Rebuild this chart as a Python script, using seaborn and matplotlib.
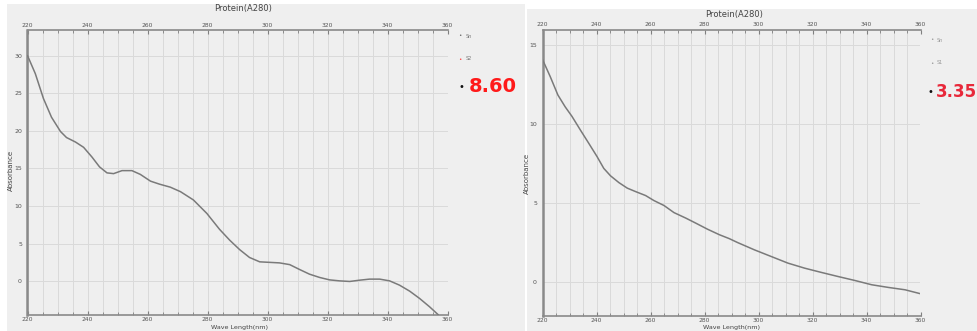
import matplotlib
matplotlib.use("Agg")
import matplotlib.pyplot as plt
from matplotlib.patches import Rectangle
from matplotlib.ticker import MultipleLocator
import seaborn as sns
import pandas as pd

# ---- data ----
left_wl = [220, 222.6, 225.3, 228, 231, 233, 236, 238.7, 241.5, 244, 246.5, 248.7,
           251.5, 254.8, 257.6, 261, 264, 267.6, 271, 275.3, 279.8, 284, 287.4,
           290.7, 294, 297.4, 300.7, 304, 307.4, 310.7, 314, 317.4, 320.7, 324,
           327.4, 330.7, 334, 337.4, 340.7, 344, 347.4, 350.7, 354, 357]
left_abs = [30.0, 27.6, 24.3, 21.8, 19.9, 19.1, 18.5, 17.8, 16.5, 15.2, 14.4, 14.3,
            14.7, 14.7, 14.2, 13.3, 12.9, 12.5, 11.9, 10.8, 9.0, 6.9, 5.45,
            4.2, 3.15, 2.57, 2.5, 2.43, 2.2, 1.55, 0.93, 0.49, 0.17, 0.04,
            -0.04, 0.13, 0.27, 0.27, 0.04, -0.53, -1.33, -2.3, -3.4, -4.5]

right_wl = [220, 222.9, 225.7, 228.4, 230.9, 234, 237.1, 240.2, 242.7, 245.2, 248.3,
            251.4, 254.5, 258.2, 261.3, 265, 268.7, 273.1, 276.8, 281.1, 285.5,
            289.2, 292.3, 298.5, 304.7, 310.9, 317.1, 323.3, 329.5, 335.7, 341.9,
            348.1, 354.3, 360]
right_abs = [14.1, 13.0, 11.85, 11.1, 10.5, 9.64, 8.8, 7.95, 7.2, 6.73, 6.3,
             5.95, 5.73, 5.48, 5.16, 4.85, 4.4, 4.05, 3.73, 3.35, 3.0,
             2.75, 2.5, 2.04, 1.62, 1.2, 0.88, 0.61, 0.35, 0.1, -0.17,
             -0.34, -0.49, -0.74]

x_ticks = [220, 240, 260, 280, 300, 320, 340, 360]
left_yticks = [0, 5, 10, 15, 20, 25, 30]
right_yticks = [0, 5, 10, 15]
title = "Protein(A280)"
xlabel = "Wave Length(nm)"
ylabel = "Absorbance"
left_value = "8.60"
right_value = "3.35"
legend_left = ["Sn", "S2"]
legend_right = ["Sn", "S1"]

sns.set_style("white")
plt.rcParams['font.family'] = ['DejaVu Sans']

W, H = 978, 331
fig = plt.figure(figsize=(W / 100, H / 100), dpi=100)
fig.patch.set_facecolor("white")

BG = "#efefef"
def px_rect(x0, y0, x1, y1):
    return [x0 / W, 1 - y1 / H, (x1 - x0) / W, (y1 - y0) / H]

# panel backgrounds
for (x0, y0, x1, y1) in [(7, 4, 525, 331), (527, 9, 978, 331)]:
    fig.patches.append(Rectangle((x0 / W, 1 - y1 / H), (x1 - x0) / W, (y1 - y0) / H,
                                 transform=fig.transFigure, facecolor=BG,
                                 edgecolor="none", zorder=-5))

def make_panel(rect, wl, ab, ylim, yticks):
    ax = fig.add_axes(px_rect(*rect))
    ax.set_zorder(5)
    ax.set_facecolor(BG)
    df = pd.DataFrame({"wl": wl, "abs": ab})
    sns.lineplot(data=df, x="wl", y="abs", ax=ax, color="#7a7a7a", linewidth=1.1,
                 estimator=None, sort=True, zorder=3)
    ax.set_xlim(220, 360)
    ax.set_ylim(*ylim)
    ax.set_xticks(x_ticks)
    ax.xaxis.set_minor_locator(MultipleLocator(5))
    ax.set_yticks(yticks)
    ax.yaxis.set_minor_locator(MultipleLocator(1))
    ax.set_axisbelow(True)
    ax.grid(True, which="both", axis="x", color="#dadada", linewidth=0.7)
    ax.grid(True, which="major", axis="y", color="#dadada", linewidth=0.7)
    ax.set_xlabel("")
    ax.set_ylabel("")
    ax.tick_params(axis="x", which="both", top=True, labeltop=True, bottom=True,
                   labelbottom=True, direction="in", colors="#808080",
                   labelcolor="#555555", labelsize=4.3, pad=1.5)
    ax.tick_params(axis="x", which="major", length=3, width=0.8)
    ax.tick_params(axis="x", which="minor", length=2, width=0.6)
    ax.tick_params(axis="y", which="both", direction="inout", colors="#808080",
                   labelcolor="#555555", labelsize=4.5, pad=2)
    ax.tick_params(axis="y", which="major", length=4, width=0.8)
    ax.tick_params(axis="y", which="minor", length=2.5, width=0.8)
    for s in ["left", "top", "bottom"]:
        ax.spines[s].set_color("#8a8a8a")
        ax.spines[s].set_linewidth(1.2)
    ax.spines["left"].set_linewidth(1.8)
    ax.spines["right"].set_visible(False)
    return ax

axL = make_panel((27.5, 30, 447.5, 315), left_wl, left_abs, (-4.5, 33.4), left_yticks)
axR = make_panel((542.5, 29.5, 920.5, 316), right_wl, right_abs, (-2.15, 16.0), right_yticks)

def ftext(x, y, s, **kw):
    fig.text(x / W, 1 - y / H, s, zorder=10, **kw)

# titles, axis labels
ftext(243, 9, title, ha="center", va="center", fontsize=6, color="#444444")
ftext(734, 14, title, ha="center", va="center", fontsize=6, color="#444444")
ftext(240, 325.5, xlabel, ha="center", va="top", fontsize=4.6, color="#444444")
ftext(732, 325.5, xlabel, ha="center", va="top", fontsize=4.6, color="#444444")
ftext(11, 170, ylabel, ha="center", va="center", rotation=90, fontsize=5, color="#444444")
ftext(527, 173, ylabel, ha="center", va="center", rotation=90, fontsize=5, color="#444444")

# legend-like items
ftext(460, 36, "•", ha="center", va="center", fontsize=4, color="#666666")
ftext(466, 36, legend_left[0], ha="left", va="center", fontsize=3.5, color="#777777")
ftext(460, 59, "•", ha="center", va="center", fontsize=4, color="#ff4040")
ftext(466, 59, legend_left[1], ha="left", va="center", fontsize=3.5, color="#777777")
ftext(932, 40, "•", ha="center", va="center", fontsize=4, color="#999999")
ftext(937, 40, legend_right[0], ha="left", va="center", fontsize=3.5, color="#999999")
ftext(932, 63, "•", ha="center", va="center", fontsize=4, color="#999999")
ftext(937, 63, legend_right[1], ha="left", va="center", fontsize=3.5, color="#999999")

# big readings
ftext(461, 87, "•", ha="center", va="center", fontsize=7, color="#111111")
ftext(469, 87, left_value, ha="left", va="center", fontsize=14, fontweight="bold",
      color="#ff1a1a")
ftext(930, 92, "•", ha="center", va="center", fontsize=7, color="#111111")
ftext(936, 92, right_value, ha="left", va="center", fontsize=12, fontweight="bold",
      color="#e8283a")

fig.savefig("out.png", dpi=100, facecolor="white")
